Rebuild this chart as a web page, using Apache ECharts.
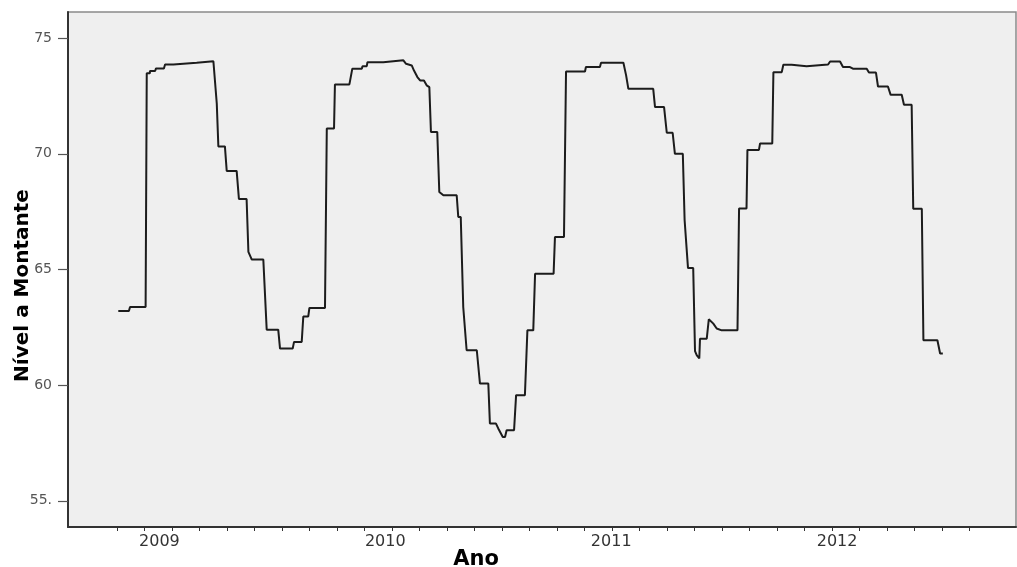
<!DOCTYPE html>
<html>
<head>
<meta charset="utf-8">
<script src="https://cdn.jsdelivr.net/npm/echarts@6.0.0/dist/echarts.min.js"></script>
<style>
  html, body { margin: 0; padding: 0; background: #ffffff; }
  #chart { width: 1017px; height: 567px; }
</style>
</head>
<body>
<div id="chart"></div>
<script>
// ---- Data (x = decimal year, y = reservoir level "Nível a Montante") ----
const dates2009 = [2009.318, 2009.365, 2009.370, 2009.439, 2009.444, 2009.458, 2009.458, 2009.481, 2009.485, 2009.520,
  2009.525, 2009.562, 2009.569, 2009.665, 2009.671, 2009.739, 2009.754, 2009.761, 2009.790, 2009.798,
  2009.842, 2009.852, 2009.886, 2009.894, 2009.909, 2009.960, 2009.975];
const levels2009 = [63.21, 63.21, 63.38, 63.38, 73.48, 73.48, 73.58, 73.58, 73.69, 73.69,
  73.86, 73.86, 73.94, 73.94, 74.00, 74.00, 72.17, 70.32, 70.32, 69.26,
  69.26, 68.05, 68.05, 65.76, 65.43, 65.43, 62.40];

const dates2010 = [2010.026, 2010.034, 2010.090, 2010.096, 2010.130, 2010.137, 2010.159, 2010.164, 2010.233, 2010.241,
  2010.273, 2010.277, 2010.341, 2010.354, 2010.396, 2010.399, 2010.418, 2010.421, 2010.491, 2010.494,
  2010.580, 2010.592, 2010.600, 2010.617, 2010.627, 2010.642, 2010.654, 2010.671, 2010.683, 2010.695,
  2010.702, 2010.730, 2010.739, 2010.757, 2010.816, 2010.823, 2010.834, 2010.845, 2010.860, 2010.905,
  2010.919, 2010.956, 2010.963, 2010.990];
const levels2010 = [62.40, 61.58, 61.58, 61.87, 61.87, 62.97, 62.97, 63.34, 63.34, 71.09,
  71.09, 73.00, 73.00, 73.68, 73.68, 73.79, 73.79, 73.96, 73.96, 74.04,
  74.04, 73.89, 73.82, 73.82, 73.60, 73.32, 73.17, 73.17, 72.96, 72.88,
  70.94, 70.94, 68.35, 68.21, 68.21, 67.27, 67.27, 63.38, 61.51, 61.51,
  60.07, 60.07, 58.34, 58.34];

const dates2011 = [2011.000, 2011.020, 2011.030, 2011.037, 2011.070, 2011.079, 2011.118, 2011.129, 2011.155, 2011.163,
  2011.245, 2011.251, 2011.291, 2011.300, 2011.384, 2011.388, 2011.450, 2011.455, 2011.554, 2011.566,
  2011.576, 2011.686, 2011.694, 2011.734, 2011.746, 2011.772, 2011.782, 2011.817, 2011.825, 2011.831,
  2011.840, 2011.863, 2011.871, 2011.879, 2011.890, 2011.893, 2011.923, 2011.932, 2011.952, 2011.967,
  2011.989];
const levels2011 = [58.13, 57.76, 57.76, 58.05, 58.05, 59.57, 59.57, 62.37, 62.37, 64.82,
  64.82, 66.40, 66.40, 73.56, 73.56, 73.75, 73.75, 73.94, 73.94, 73.39,
  72.81, 72.81, 72.02, 72.02, 70.91, 70.91, 70.00, 70.00, 67.13, 67.13,
  65.06, 65.06, 61.47, 61.29, 61.16, 62.01, 62.01, 62.85, 62.66, 62.45,
  62.37];

const dates2012 = [2012.059, 2012.066, 2012.099, 2012.103, 2012.154, 2012.159, 2012.213, 2012.218, 2012.255, 2012.262,
  2012.299, 2012.299, 2012.365, 2012.371, 2012.460, 2012.469, 2012.513, 2012.526, 2012.557, 2012.570,
  2012.631, 2012.641, 2012.672, 2012.681, 2012.725, 2012.737, 2012.786, 2012.796, 2012.830, 2012.837,
  2012.875, 2012.882, 2012.944, 2012.956, 2012.968];
const levels2012 = [62.37, 67.64, 67.64, 70.17, 70.17, 70.45, 70.45, 73.53, 73.53, 73.85,
  73.85, 73.79, 73.79, 73.86, 73.86, 73.99, 73.99, 73.75, 73.75, 73.68,
  73.68, 73.51, 73.51, 72.91, 72.91, 72.55, 72.55, 72.12, 72.12, 67.63,
  67.63, 61.94, 61.94, 61.37, 61.37];

// ---- Axis labels ----
const yearLabels = ['2009', '2010', '2011', '2012'];
const yearPositions = [2009.5, 2010.5, 2011.5, 2012.5];
const levelTicks = [55, 60, 65, 70, 75];
const levelTickLabels = ['55.', '60', '65', '70', '75'];

// ---- Build ----
const allDates = dates2009.concat(dates2010, dates2011, dates2012);
const allLevels = levels2009.concat(levels2010, levels2011, levels2012);
const seriesData = allDates.map((d, i) => [d, allLevels[i]]);

const tickStart = 2009.3123, tickStep = 0.12174, tickCount = 32;
const minorTicks = [];
for (let k = 0; k < tickCount; k++) minorTicks.push(+(tickStart + k * tickStep).toFixed(4));

const chart = echarts.init(document.getElementById('chart'), null, { renderer: 'canvas' });
chart.setOption({
  animation: false,
  backgroundColor: '#ffffff',
  grid: {
    left: 68, right: 1, top: 12, bottom: 40,
    containLabel: false,
    outerBoundsMode: 'none',
    show: true, backgroundColor: '#efefef', borderColor: '#8a8a8a', borderWidth: 1.5
  },
  xAxis: {
    type: 'value',
    min: 2009.0954, max: 2013.2919,
    splitLine: { show: false },
    axisLine: { show: true, onZero: false, lineStyle: { color: '#333333', width: 2 } },
    axisTick: { show: true, customValues: minorTicks, length: 4, lineStyle: { color: '#333333', width: 1 } },
    axisLabel: {
      customValues: yearPositions,
      formatter: function (v) {
        let best = 0;
        for (let i = 1; i < yearPositions.length; i++) {
          if (Math.abs(yearPositions[i] - v) < Math.abs(yearPositions[best] - v)) best = i;
        }
        return yearLabels[best];
      },
      margin: 7, color: '#333333', fontSize: 16, fontFamily: 'DejaVu Sans'
    }
  },
  yAxis: {
    type: 'value',
    min: 53.87, max: 76.13,
    name: 'Nível a Montante',
    nameLocation: 'middle',
    nameGap: 35,
    nameMoveOverlap: false,
    nameTextStyle: { fontFamily: 'DejaVu Sans', fontWeight: 'bold', fontSize: 20, color: '#000000', padding: [0, 32, 0, 0] },
    splitLine: { show: false },
    axisLine: { show: true, lineStyle: { color: '#333333', width: 2 } },
    axisTick: { show: true, customValues: levelTicks, length: 10, lineStyle: { color: '#555555', width: 1.2 } },
    axisLabel: {
      customValues: levelTicks,
      formatter: function (v) {
        const i = levelTicks.indexOf(Math.round(v));
        return i >= 0 ? levelTickLabels[i] : '';
      },
      margin: 16, color: '#555555', fontSize: 14, fontFamily: 'DejaVu Sans'
    }
  },
  graphic: [{
    type: 'text', x: 476, y: 549,
    style: { text: 'Ano', align: 'center', verticalAlign: 'top', fontFamily: 'DejaVu Sans', fontWeight: 'bold', fontSize: 21, fill: '#000000' }
  }],
  series: [{
    type: 'line',
    data: seriesData,
    showSymbol: false,
    symbol: 'none',
    lineStyle: { color: '#1c1c1c', width: 2 }
  }]
});
</script>
</body>
</html>
